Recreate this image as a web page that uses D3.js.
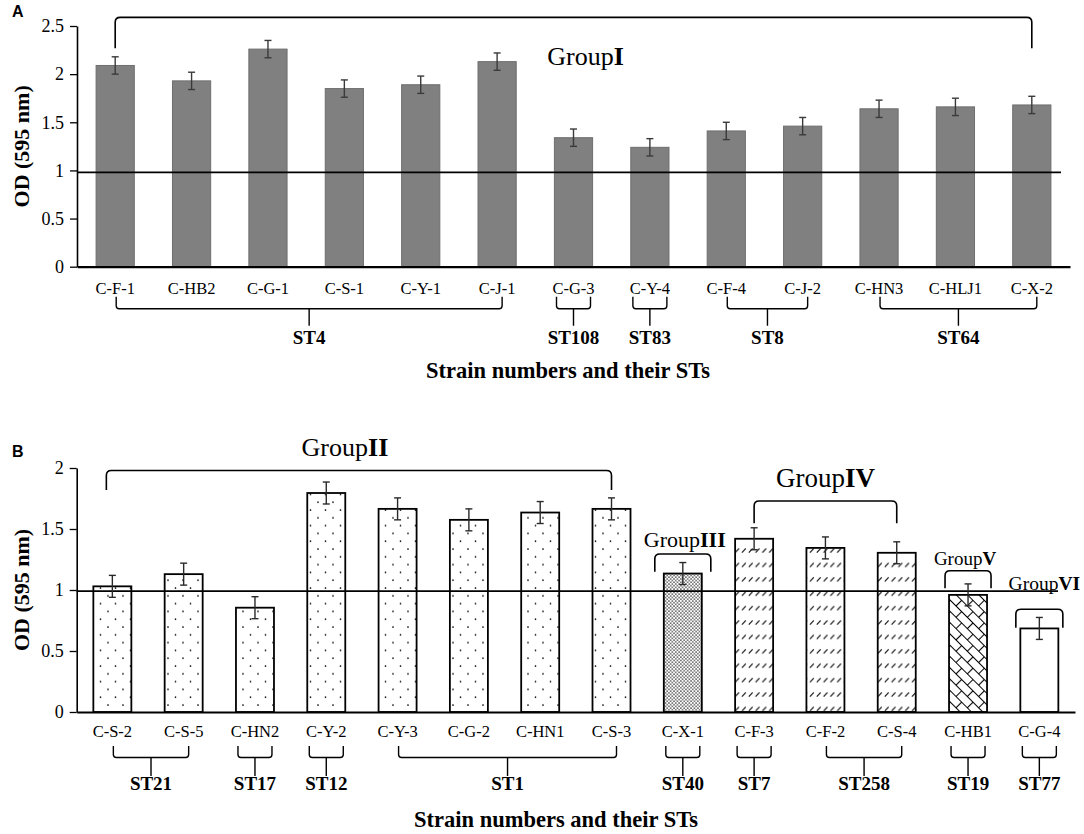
<!DOCTYPE html>
<html><head><meta charset="utf-8">
<script src="https://cdn.jsdelivr.net/npm/d3@7/dist/d3.min.js"></script>
<style>
body{margin:0;background:#fff}
svg{display:block}
text{font-family:"Liberation Serif","Times New Roman",serif;fill:#000}
</style>
</head><body>
<svg id="c" width="1084" height="834"></svg>
<script>
// ---------------- DATA ----------------
const strainsA = ["C-F-1","C-HB2","C-G-1","C-S-1","C-Y-1","C-J-1","C-G-3","C-Y-4","C-F-4","C-J-2","C-HN3","C-HLJ1","C-X-2"];
const odA      = [2.09, 1.93, 2.26, 1.85, 1.89, 2.13, 1.34, 1.24, 1.41, 1.46, 1.64, 1.66, 1.68];
const errA     = [0.09, 0.09, 0.09, 0.09, 0.09, 0.09, 0.09, 0.09, 0.09, 0.09, 0.09, 0.09, 0.09];
const stA      = [{name:"ST4",from:0,to:5},{name:"ST108",from:6,to:6},{name:"ST83",from:7,to:7},{name:"ST8",from:8,to:9},{name:"ST64",from:10,to:12}];
const groupsA  = [{name:"I",from:0,to:12}];
const ticksA   = [0,0.5,1,1.5,2,2.5];
const cutoffA  = 0.98;

const strainsB = ["C-S-2","C-S-5","C-HN2","C-Y-2","C-Y-3","C-G-2","C-HN1","C-S-3","C-X-1","C-F-3","C-F-2","C-S-4","C-HB1","C-G-4"];
const odB      = [1.03, 1.13, 0.855, 1.795, 1.665, 1.575, 1.635, 1.665, 1.135, 1.42, 1.345, 1.305, 0.96, 0.685];
const errB     = [0.09, 0.09, 0.09, 0.09, 0.09, 0.09, 0.09, 0.09, 0.09, 0.09, 0.09, 0.09, 0.09, 0.09];
const groupOfB = ["II","II","II","II","II","II","II","II","III","IV","IV","IV","V","VI"];
const stB      = [{name:"ST21",from:0,to:1},{name:"ST17",from:2,to:2},{name:"ST12",from:3,to:3},{name:"ST1",from:4,to:7},{name:"ST40",from:8,to:8},{name:"ST7",from:9,to:9},{name:"ST258",from:10,to:11},{name:"ST19",from:12,to:12},{name:"ST77",from:13,to:13}];
const groupsB  = [{name:"II",from:0,to:7},{name:"III",from:8,to:8},{name:"IV",from:9,to:11},{name:"V",from:12,to:12},{name:"VI",from:13,to:13}];
const ticksB   = [0,0.5,1,1.5,2];
const cutoffB  = 0.99;

const yTitle = "OD (595 nm)";
const xTitle = "Strain numbers and their STs";

// ---------------- LAYOUT ----------------
const LA = {x0:77, x1:1070, yBot:266.7, yTop:26, yMax:2.5, pi:0.5, po:0.25,
  cutEnd:1061, labPad:16, stY:[30,42,59,77], titleY:378, titleX:568, yTitleX:21, panel:"A", panelY:17,
  fill:"#808080", stroke:"#6e6e6e", sw:1, errCol:"#3a3a3a"};
const LB = {x0:76.7, x1:1075, yBot:712, yTop:468, yMax:2, pi:0.467, po:0.2335,
  cutEnd:1058, labPad:13.5, stY:[34,45.5,64,77.5], titleY:827, titleX:556, yTitleX:21, panel:"B", panelY:457,
  stroke:"#000", sw:1.8, errCol:"#2a2a2a"};

// group bracket layout (value units for y, px for x pads / label offsets)
const gLayoutA = {I:{top:2.59,bot:2.27,half:0,lab:2.095,dx:12,size:26}};
const gLayoutB = {
  II:{top:1.98,bot:1.82,half:0,lab:2.098,dx:-14,size:26, padL:-6},
  III:{top:1.295,bot:1.15,half:28,lab:1.355,dx:2,size:22},
  IV:{top:1.73,bot:1.547,half:0,lab:1.847,dx:0,size:27},
  V:{top:1.158,bot:1.014,half:23,lab:1.205,dx:-3,size:19},
  VI:{top:0.842,bot:0.69,half:23.5,lab:1.0,dx:5,size:19.5}
};

const svg = d3.select("#c");
const defs = svg.append("defs");

function pattern(id, w, h, draw, transform){
  const p = defs.append("pattern").attr("id",id).attr("patternUnits","userSpaceOnUse")
    .attr("width",w).attr("height",h);
  if (transform) p.attr("patternTransform", transform);
  p.append("rect").attr("width",w).attr("height",h).attr("fill","#fff");
  draw(p);
}
pattern("pII", 15, 15.6, p=>{
  p.append("circle").attr("cx",3).attr("cy",3).attr("r",0.85).attr("fill","#000");
  p.append("circle").attr("cx",10.5).attr("cy",10.8).attr("r",0.85).attr("fill","#000");
});
pattern("pIII", 3.4, 3.4, p=>{
  p.append("circle").attr("cx",0.85).attr("cy",0.85).attr("r",0.72).attr("fill","#000");
  p.append("circle").attr("cx",2.55).attr("cy",2.55).attr("r",0.72).attr("fill","#000");
});
pattern("pIV", 6.8, 14.4, p=>{
  p.append("path").attr("d","M0.8,5.4L4.6,1.4").attr("stroke","#000").attr("stroke-width",1.1);
});
pattern("pV", 16, 16, p=>{
  p.append("path").attr("d","M0,0.5H16M0,8.5H16M0.5,0.5V8.5M8.5,8.5V16.5")
   .attr("stroke","#000").attr("stroke-width",1.1).attr("fill","none");
}, "rotate(45)");
const fillB = {II:"url(#pII)", III:"url(#pIII)", IV:"url(#pIV)", V:"url(#pV)", VI:"#fff"};

function bracketPath(xa, xb, yt, yb, r){
  return `M${xa},${yb}L${xa},${yt+r}Q${xa},${yt} ${xa+r},${yt}L${xb-r},${yt}Q${xb},${yt} ${xb},${yt+r}L${xb},${yb}`;
}

function drawPanel(L, strains, od, err, st, groups, gLayout, ticks, cutoff, fillFn){
  const g = svg.append("g");
  const x = d3.scaleBand().domain(strains).range([L.x0, L.x1]).paddingInner(L.pi).paddingOuter(L.po);
  const y = d3.scaleLinear().domain([0, L.yMax]).range([L.yBot, L.yTop]);
  const cx = i => x(strains[i]) + x.bandwidth()/2;

  // bars
  g.selectAll("rect.bar").data(strains).join("rect").attr("class","bar")
    .attr("x", d=>x(d)).attr("width", x.bandwidth())
    .attr("y", (d,i)=>y(od[i])).attr("height",(d,i)=>y(0)-y(od[i]))
    .attr("fill",(d,i)=>fillFn(i)).attr("stroke",L.stroke).attr("stroke-width",L.sw);

  // cutoff line
  g.append("line").attr("x1",L.x0).attr("x2",L.cutEnd).attr("y1",y(cutoff)).attr("y2",y(cutoff))
    .attr("stroke","#000").attr("stroke-width",1.8);

  // error bars
  const eb = g.selectAll("g.eb").data(strains).join("g").attr("class","eb")
    .attr("stroke",L.errCol).attr("stroke-width",1.4);
  eb.append("line").attr("x1",(d,i)=>cx(i)).attr("x2",(d,i)=>cx(i))
    .attr("y1",(d,i)=>y(od[i]+err[i])).attr("y2",(d,i)=>y(od[i]-err[i]));
  eb.append("line").attr("x1",(d,i)=>cx(i)-3.5).attr("x2",(d,i)=>cx(i)+3.5)
    .attr("y1",(d,i)=>y(od[i]+err[i])).attr("y2",(d,i)=>y(od[i]+err[i]));
  eb.append("line").attr("x1",(d,i)=>cx(i)-3.5).attr("x2",(d,i)=>cx(i)+3.5)
    .attr("y1",(d,i)=>y(od[i]-err[i])).attr("y2",(d,i)=>y(od[i]-err[i]));

  // y axis
  const ya = g.append("g").attr("transform",`translate(${L.x0},0)`)
    .call(d3.axisLeft(y).tickValues(ticks).tickSize(7).tickPadding(6).tickSizeOuter(0).tickFormat(d=>String(d)));
  ya.attr("font-family",null).attr("font-size",null);
  ya.select(".domain").attr("stroke","#000").attr("stroke-width",1.6);
  ya.selectAll(".tick line").attr("stroke","#000").attr("stroke-width",1.3);
  ya.selectAll(".tick text").style("font-size","18px").attr("fill","#000");

  // x axis
  const xa = g.append("g").attr("transform",`translate(0,${L.yBot})`)
    .call(d3.axisBottom(x).tickSize(0).tickPadding(L.labPad).tickSizeOuter(0));
  xa.attr("font-family",null).attr("font-size",null);
  xa.select(".domain").attr("stroke","#000").attr("stroke-width",2.2);
  xa.selectAll(".tick text").style("font-size","16.5px").attr("fill","#000");

  // ST brackets
  st.forEach(s=>{
    let xa1, xb1;
    if (s.from === s.to){ xa1 = cx(s.from)-17; xb1 = cx(s.to)+17; }
    else { xa1 = cx(s.from)+1; xb1 = cx(s.to)+5; }
    const xm = (xa1+xb1)/2;
    const [y1,y2,y3,yl] = L.stY.map(v=>L.yBot+v);
    const r = 3;
    g.append("path")
      .attr("d",`M${xa1},${y1}L${xa1},${y2-r}Q${xa1},${y2} ${xa1+r},${y2}L${xb1-r},${y2}Q${xb1},${y2} ${xb1},${y2-r}L${xb1},${y1}M${xm},${y2}L${xm},${y3}`)
      .attr("fill","none").attr("stroke","#000").attr("stroke-width",1.4);
    g.append("text").attr("x",xm).attr("y",yl).attr("text-anchor","middle")
      .style("font-size","19px").style("font-weight","bold").text(s.name);
  });

  // group brackets
  groups.forEach(gr=>{
    const lay = gLayout[gr.name];
    const xa1 = cx(gr.from) - lay.half + (lay.padL||0);
    const xb1 = cx(gr.to) + lay.half;
    g.append("path").attr("d",bracketPath(xa1, xb1, y(lay.top), y(lay.bot), 5))
      .attr("fill","none").attr("stroke","#000").attr("stroke-width",1.6);
    const t = g.append("text").attr("x",(xa1+xb1)/2 + lay.dx).attr("y",y(lay.lab))
      .attr("text-anchor","middle").style("font-size",lay.size+"px");
    t.append("tspan").text("Group");
    t.append("tspan").style("font-weight","bold").text(gr.name);
  });

  // titles
  g.append("text").attr("x",L.titleX).attr("y",L.titleY).attr("text-anchor","middle")
    .style("font-size","22.5px").style("font-weight","bold").text(xTitle);
  g.append("text").attr("transform",`translate(${L.yTitleX},${(L.yTop+L.yBot)/2}) rotate(-90)`)
    .attr("text-anchor","middle").attr("dy","0.35em")
    .style("font-size","22px").style("font-weight","bold").text(yTitle);
  g.append("text").attr("x",12).attr("y",L.panelY)
    .style("font-family","'Liberation Sans', Arial, sans-serif").style("font-size","16px")
    .style("font-weight","bold").text(L.panel);
}

drawPanel(LA, strainsA, odA, errA, stA, groupsA, gLayoutA, ticksA, cutoffA, ()=>LA.fill);
drawPanel(LB, strainsB, odB, errB, stB, groupsB, gLayoutB, ticksB, cutoffB, i=>fillB[groupOfB[i]]);
</script>
</body></html>
